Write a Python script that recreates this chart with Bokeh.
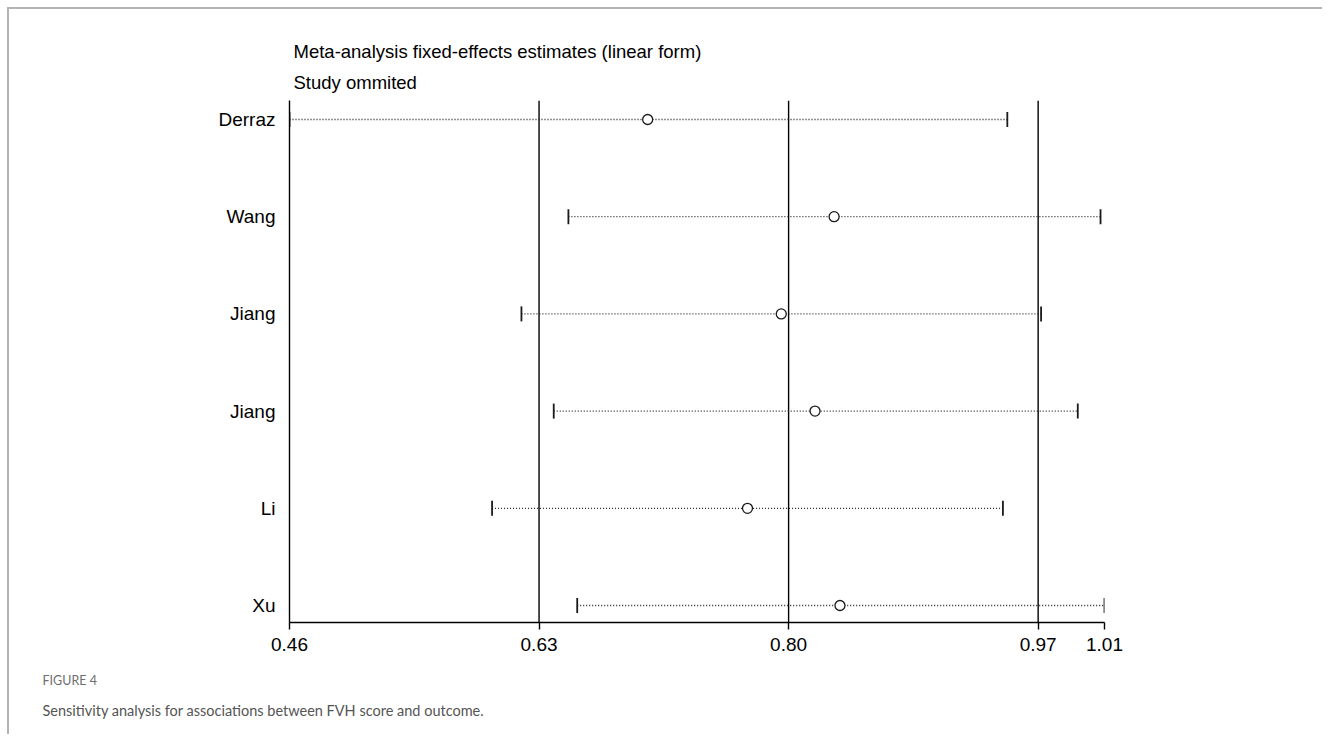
import math
from bokeh.plotting import figure
from bokeh.models import Range1d, FixedTicker, Title, ColumnDataSource
from bokeh.embed import file_html
from bokeh.resources import INLINE

# ---------------- data ----------------
studies = ["Derraz", "Wang", "Jiang", "Jiang", "Li", "Xu"]
estimate = [0.704, 0.831, 0.795, 0.818, 0.772, 0.835]
lower_ci = [0.460, 0.650, 0.618, 0.640, 0.598, 0.656]
upper_ci = [0.949, 1.0125, 0.972, 0.997, 0.946, 1.0152]
ref_lines = [0.63, 0.80, 0.97]          # combined lower CI, estimate, upper CI
x_ticks = [0.46, 0.63, 0.80, 0.97, 1.0152]
x_tick_labels = ["0.46", "0.63", "0.80", "0.97", "1.01"]
title_lines = ["Meta-analysis fixed-effects estimates (linear form)", "Study ommited"]
fig_label = "FIGURE 4"
caption = "Sensitivity analysis for associations between FVH score and outcome."

# ---------------- layout (page pixels) ----------------
ORIGIN = 9                      # canvas origin on the page (after border)
W, H = 1315, 727
frame_left, frame_right = 289, 1104
frame_top, frame_bottom = 100, 622
row_top_px, row_bot_px = 119, 605
n = len(studies)
row_pitch = (row_bot_px - row_top_px) / (n - 1)

x_start, x_end = x_ticks[0], x_ticks[-1]
y_end = n + (row_top_px - frame_top) / row_pitch
y_start = 1 - (frame_bottom - row_bot_px) / row_pitch

ypos = [n - i for i in range(n)]

mb_left = frame_left - ORIGIN
mb_top = frame_top - ORIGIN
p = figure(width=W, height=H, output_backend="svg", toolbar_location=None,
           x_range=Range1d(x_start, x_end), y_range=Range1d(y_start, y_end),
           min_border_left=mb_left,
           min_border_right=W - mb_left - (frame_right - frame_left),
           min_border_top=mb_top,
           min_border_bottom=H - mb_top - (frame_bottom - frame_top))
p.outline_line_color = None
p.background_fill_color = "white"
p.border_fill_color = "white"
p.xgrid.visible = False
p.ygrid.visible = False
p.styles = {"margin-left": "7px", "margin-top": "7px",
            "border-top": "2px solid #b4b4b4", "border-left": "2px solid #b4b4b4"}

FONT = "Liberation Sans"

# titles above (first added is nearest to the frame)
p.add_layout(Title(text=title_lines[1], align="left", offset=4, standoff=16,
                   text_font=FONT, text_font_size="18.5px", text_font_style="normal",
                   text_color="black"), "above")
p.add_layout(Title(text=title_lines[0], align="left", offset=4, standoff=0,
                   text_font=FONT, text_font_size="18.5px", text_font_style="normal",
                   text_color="black"), "above")

# x axis
xa = p.xaxis[0]
xa.ticker = FixedTicker(ticks=x_ticks)
xa.major_label_overrides = dict(zip(x_ticks, x_tick_labels))
xa.minor_tick_line_color = None
xa.major_tick_in = 0
xa.major_tick_out = 7
xa.axis_line_width = 1.4
xa.major_tick_line_width = 1.4
xa.axis_line_color = "black"
xa.major_tick_line_color = "black"
xa.major_label_text_font = FONT
xa.major_label_text_font_size = "19px"
xa.major_label_text_color = "black"
xa.major_label_standoff = 8

# y axis
ya = p.yaxis[0]
ya.ticker = FixedTicker(ticks=ypos)
ya.major_label_overrides = {yy: s for yy, s in zip(ypos, studies)}
ya.minor_tick_line_color = None
ya.major_tick_line_color = None
ya.major_tick_in = 0
ya.major_tick_out = 0
ya.axis_line_width = 1.4
ya.axis_line_color = "black"
ya.major_label_text_font = FONT
ya.major_label_text_font_size = "19px"
ya.major_label_text_color = "black"
ya.major_label_standoff = 14

# caption below the axis
p.add_layout(Title(text=fig_label, align="left", offset=42 - frame_left, standoff=35,
                   text_font="Lato", text_font_size="12.5px", text_font_style="normal",
                   text_color="#6e6e6e"), "below")
p.add_layout(Title(text=caption, align="left", offset=42 - frame_left, standoff=-12,
                   text_font="Lato", text_font_size="14.5px", text_font_style="normal",
                   text_color="#555555"), "below")

# reference vertical lines
p.segment(x0=ref_lines, x1=ref_lines, y0=[y_start] * len(ref_lines), y1=[y_end] * len(ref_lines),
          line_color="black", line_width=1.4)

src = ColumnDataSource(dict(y=ypos, est=estimate, lo=lower_ci, hi=upper_ci))
p.segment(x0="lo", x1="hi", y0="y", y1="y", source=src,
          line_color="#222222", line_width=1.3, line_dash="1 2")
p.scatter(x="lo", y="y", source=src, marker="dash", angle=math.pi / 2, size=15,
          line_color="#1a1a1a", line_width=1.8)
p.scatter(x="hi", y="y", source=src, marker="dash", angle=math.pi / 2, size=15,
          line_color="#1a1a1a", line_width=1.8)
p.scatter(x="est", y="y", source=src, marker="circle", size=10,
          fill_color="white", line_color="#1a1a1a", line_width=1.3)

open("out.html", "w").write(file_html(p, INLINE))
